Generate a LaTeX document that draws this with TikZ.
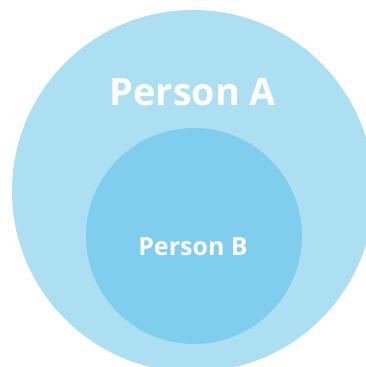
\documentclass[tikz,border=0pt]{standalone}
\usepackage{fontspec}
\setmainfont{Open Sans}
\definecolor{outerblue}{RGB}{172,223,242}
\definecolor{innerblue}{RGB}{127,206,237}

\begin{document}
\begin{tikzpicture}[x=1pt, y=-1pt, font=\bfseries, text=white]

  \useasboundingbox (0,0) rectangle (366,367);
  \clip (0,0) rectangle (366,367);

  \fill[outerblue] (193,191) circle (181);
  \fill[innerblue] (194,236) circle (108);

  \node[anchor=base, inner sep=0pt, font=\fontsize{37.8}{40}\bfseries] (personA) at (193,105) {Person A};
  \node[anchor=base, inner sep=0pt, font=\fontsize{25}{28}\bfseries] (personB) at (193,255) {Person B};

\end{tikzpicture}
\end{document}
